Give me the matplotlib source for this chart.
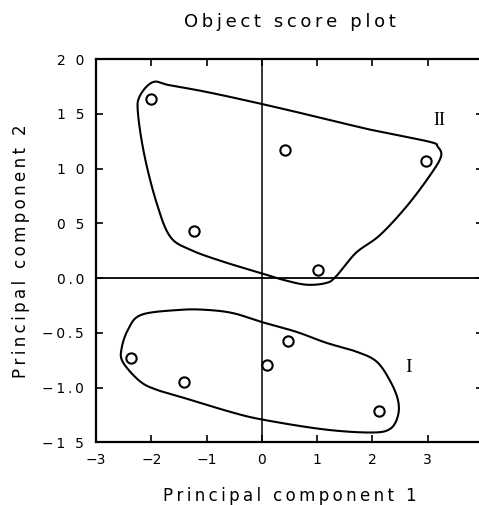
import numpy as np
import matplotlib
matplotlib.use("Agg")
import matplotlib.pyplot as plt
from matplotlib.path import Path
from matplotlib.patches import PathPatch

# Object scores on the first two principal components
group2_pc1 = [-2.00, 0.42, 2.96, -1.22, 1.01]
group2_pc2 = [1.64, 1.17, 1.07, 0.43, 0.07]
group1_pc1 = [-2.36, -1.41, 0.10, 0.47, 2.11]
group1_pc2 = [-0.73, -0.95, -0.79, -0.57, -1.21]

# Hand-drawn enclosures around each group (outline vertices in score units)
hull2_x = [-1.97, -2.21, -2.24, -2.12, -1.90, -1.66, -1.30, -0.70, -0.01, 0.38, 0.80,
           1.16, 1.34, 1.70, 2.13, 2.61, 3.03, 3.24, 3.18, 3.03, 2.01, 1.10, 0.00,
           -1.00, -1.66]
hull2_y = [1.79, 1.66, 1.50, 1.11, 0.68, 0.38, 0.26, 0.15, 0.045, -0.015, -0.06,
           -0.045, 0.015, 0.23, 0.39, 0.65, 0.93, 1.11, 1.20, 1.245, 1.35, 1.46, 1.59,
           1.70, 1.76]
hull1_x = [-2.18, -1.48, -1.00, -0.52, -0.01, 0.62, 1.16, 1.70, 2.07, 2.31, 2.46, 2.46,
           2.31, 1.95, 1.10, -0.01, -0.58, -1.30, -1.90, -2.21, -2.51, -2.54, -2.42]
hull1_y = [-0.335, -0.29, -0.29, -0.32, -0.40, -0.49, -0.59, -0.67, -0.76, -0.93, -1.11,
           -1.26, -1.38, -1.41, -1.38, -1.29, -1.22, -1.11, -1.02, -0.94, -0.77, -0.65,
           -0.47]

x_ticks = [-3, -2, -1, 0, 1, 2, 3, 4]
x_ticklabels = ["\u22123", "\u22122", "\u22121", "0", "1", "2", "3", "4"]
y_ticks = [2.0, 1.5, 1.0, 0.5, 0.0, -0.5, -1.0, -1.5]
y_ticklabels = ["2 0", "1 5", "1 0", "0 5", "0.0", "\u22120.5", "\u22121.0", "\u22121 5"]

title_text = "Object score plot"
xlabel_text = "Principal component 1"
ylabel_text = "Principal component 2"

THIN = "\u2009"


def tracked(s):
    """Letter-spaced version of a label."""
    return THIN.join(s)


def smooth_closed(xs, ys, n=20):
    """Closed Catmull-Rom curve through the outline vertices."""
    pts = np.column_stack([xs, ys])
    m = len(pts)
    out = []
    for i in range(m):
        p0, p1, p2, p3 = pts[(i - 1) % m], pts[i], pts[(i + 1) % m], pts[(i + 2) % m]
        for t in np.linspace(0, 1, n, endpoint=False):
            t2, t3 = t * t, t * t * t
            out.append(0.5 * ((2 * p1) + (-p0 + p2) * t +
                              (2 * p0 - 5 * p1 + 4 * p2 - p3) * t2 +
                              (-p0 + 3 * p1 - 3 * p2 + p3) * t3))
    out.append(out[0])
    return np.array(out)


plt.rcParams["font.family"] = ["DejaVu Sans"]
fig = plt.figure(figsize=(4.79, 5.05), dpi=100)
ax = fig.add_axes([0.2004, 0.124, 0.808, 0.759])

ax.set_xlim(-3, 4)
ax.set_ylim(-1.5, 2.0)

# Reference axes through the origin
ax.axhline(0, color="black", lw=1.3, zorder=1)
ax.axvline(0, color="black", lw=1.1, zorder=1)

for hx, hy in [(hull2_x, hull2_y), (hull1_x, hull1_y)]:
    curve = smooth_closed(hx, hy)
    ax.add_patch(PathPatch(Path(curve), facecolor="none", edgecolor="black",
                           lw=1.5, zorder=2))

ax.scatter(group2_pc1 + group1_pc1, group2_pc2 + group1_pc2, s=55,
           facecolors="white", edgecolors="black", linewidths=1.5, zorder=3)

ax.text(3.21, 1.44, "II", family="Liberation Serif", fontsize=13,
        ha="center", va="center")
ax.text(2.65, -0.82, "I", family="Liberation Serif", fontsize=14,
        ha="center", va="center")

ax.set_xticks(x_ticks)
ax.set_xticklabels(x_ticklabels)
ax.set_yticks(y_ticks)
ax.set_yticklabels([tracked(t) for t in y_ticklabels])
ax.tick_params(direction="in", length=5, width=1.2, top=True, right=True,
               labelsize=10)
ax.tick_params(axis="y", pad=8.5)
ax.tick_params(axis="x", pad=8)
for s in ax.spines.values():
    s.set_linewidth(1.6)

ax.set_title(tracked(title_text), fontsize=13, pad=23)
ax.set_xlabel(tracked(xlabel_text), fontsize=12, labelpad=14)
ax.set_ylabel(tracked(ylabel_text), fontsize=12, labelpad=9)

fig.savefig("out.png", dpi=100)
